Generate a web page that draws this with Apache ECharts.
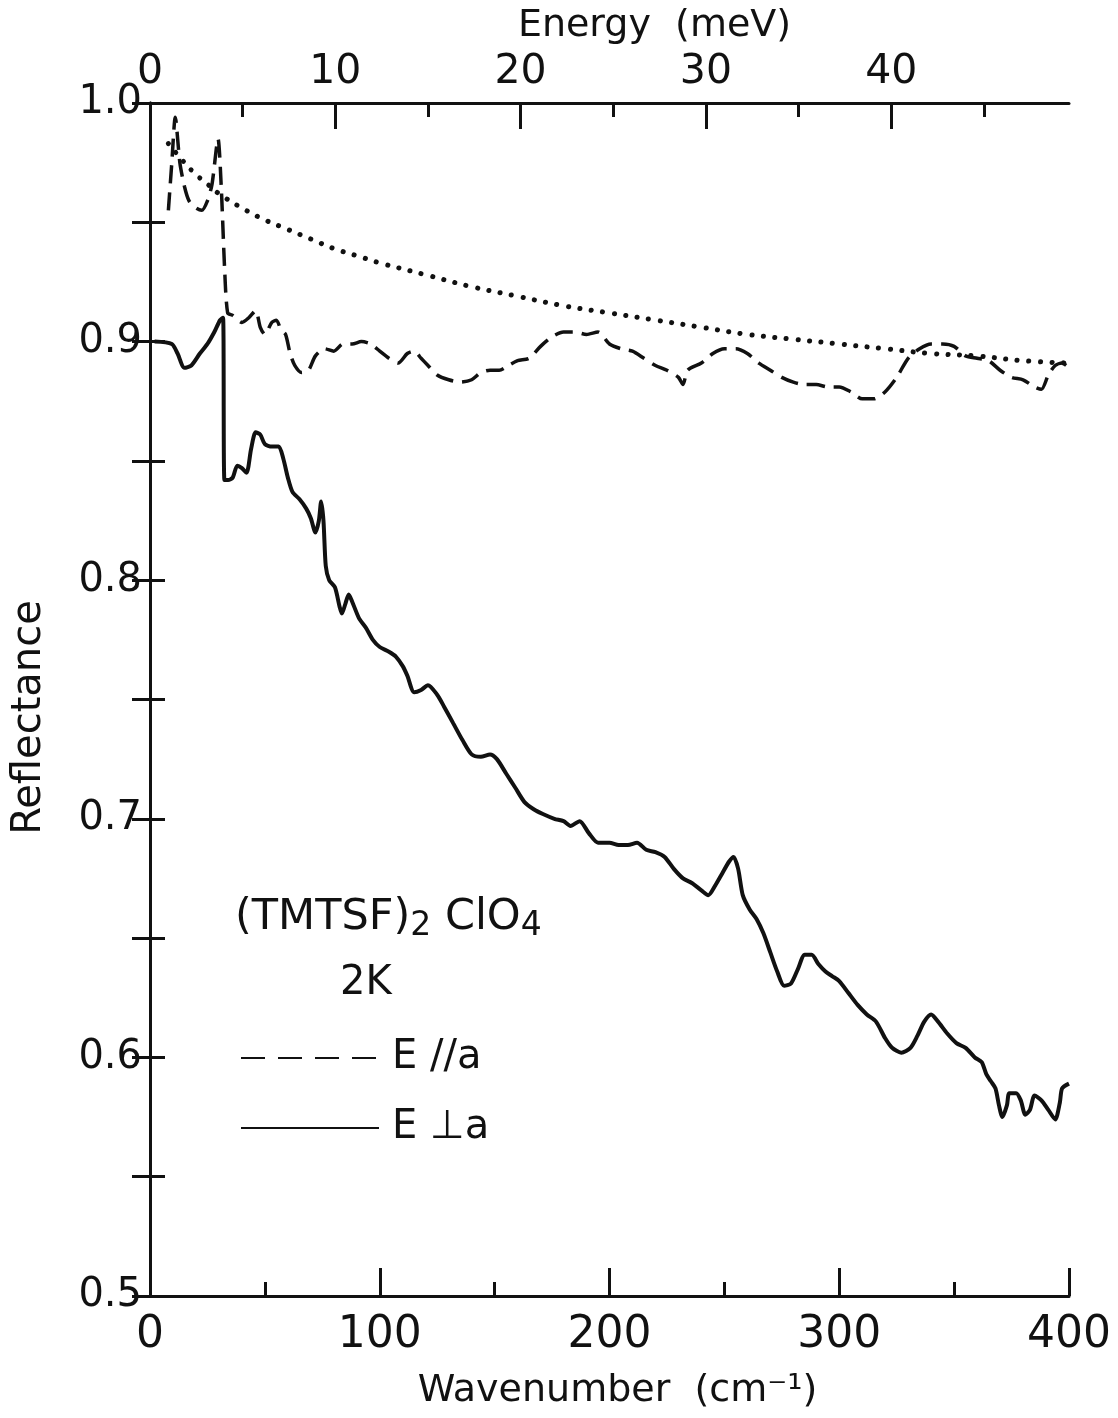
<!DOCTYPE html>
<html><head><meta charset="utf-8">
<script src="https://cdn.jsdelivr.net/npm/echarts@6/dist/echarts.min.js"></script>
<style>html,body{margin:0;padding:0;background:#fff}#c{width:1118px;height:1418px}</style>
</head><body><div id="c"></div>
<script>
// E // a (dashed)
const parallelWn = [8,9.5,11,13,15,17,20,22.5,25,27,29.6,31,32.5,33.8,36,40,43,46,48,50,53,55,57,59,61,63,66,69,72,76,80,84,88,92,96,100,104,108,112,115,118,121,125,130,135,140,144,148,152,156,160,165,170,175,180,185,190,195,200,205,210,215,220,225,230,232,234,240,245,250,255,260,265,270,275,280,285,290,295,300,305,310,315,320,325,330,335,340,345,350,355,360,365,370,375,380,385,388,391,394,397,400];
const parallelR  = [0.955,0.975,0.994,0.975,0.965,0.959,0.956,0.955,0.959,0.966,0.985,0.965,0.930,0.912,0.911,0.908,0.910,0.913,0.906,0.903,0.908,0.909,0.905,0.903,0.895,0.890,0.887,0.888,0.894,0.897,0.896,0.899,0.899,0.900,0.899,0.896,0.893,0.891,0.895,0.896,0.893,0.890,0.886,0.884,0.883,0.884,0.887,0.888,0.888,0.890,0.892,0.893,0.898,0.902,0.904,0.904,0.903,0.904,0.899,0.897,0.896,0.893,0.890,0.888,0.885,0.882,0.888,0.891,0.895,0.897,0.897,0.895,0.891,0.888,0.885,0.883,0.882,0.882,0.881,0.881,0.879,0.876,0.876,0.879,0.885,0.893,0.897,0.899,0.899,0.898,0.894,0.893,0.892,0.888,0.885,0.884,0.881,0.880,0.886,0.890,0.891,0.889];
// E perp a (solid)
const perpWn = [2,9.5,12,15,18,21.7,25,28,30.5,31.8,32.4,34,36,38,40,42,44,46,48,50,53,56,58,60,62,65,68,70,72,73.5,74.5,75.5,76.5,78,80.5,82.5,83.5,85,86.5,88,91,94,97,100,104,107,110,112,115,118,121,125,128,132,136,140,144,148,151,155,159,163,167,171,176,180,183,187,191,195,200,204,208,212,216,220,224,228,232,236,240,243,246,249,252,254,256,258,261,264,267,270,273,276,279,282,285,288,291,294,297,300,304,308,312,316,320,323,327,331,334,337,340,343,347,351,355,359,362,364,366,368,369.5,371,373,374,377,379,381,383,385,388,391,394,396,397,400];
const perpR  = [0.900,0.899,0.895,0.889,0.890,0.895,0.899,0.904,0.909,0.910,0.842,0.842,0.843,0.848,0.847,0.845,0.855,0.862,0.861,0.857,0.856,0.856,0.851,0.843,0.837,0.834,0.830,0.826,0.820,0.825,0.833,0.825,0.806,0.800,0.797,0.789,0.786,0.790,0.794,0.791,0.784,0.780,0.775,0.772,0.770,0.768,0.764,0.760,0.753,0.754,0.756,0.752,0.747,0.740,0.733,0.727,0.726,0.727,0.725,0.719,0.713,0.707,0.704,0.702,0.700,0.699,0.697,0.699,0.694,0.690,0.690,0.689,0.689,0.690,0.687,0.686,0.684,0.679,0.675,0.673,0.670,0.668,0.672,0.677,0.682,0.684,0.679,0.668,0.662,0.658,0.652,0.644,0.636,0.630,0.631,0.637,0.643,0.643,0.639,0.636,0.634,0.632,0.627,0.622,0.618,0.615,0.608,0.604,0.602,0.604,0.609,0.615,0.618,0.615,0.610,0.606,0.604,0.600,0.598,0.593,0.590,0.587,0.580,0.575,0.580,0.585,0.585,0.582,0.576,0.578,0.584,0.582,0.578,0.574,0.581,0.587,0.589];
// dotted curve
const fitWn = [8,15,20,25,30,40,50,60,70,80,90,100,120,140,160,180,200,220,240,260,280,300,320,340,360,380,400];
const fitR  = [0.983,0.975,0.970,0.966,0.962,0.956,0.951,0.947,0.943,0.939,0.936,0.933,0.928,0.923,0.919,0.915,0.912,0.909,0.906,0.903,0.901,0.899,0.897,0.895,0.894,0.892,0.891];
const energyMajorTicks = [0,10,20,30,40];
const energyMinorTicks = [5,15,25,35,45];
const CM_PER_MEV = 8.0655;

const zip = (a,b) => a.map((v,i)=>[v,b[i]]);
const FONT = 'DejaVu Sans';
const INK = '#111';
const chart = echarts.init(document.getElementById('c'));
const wnMax = 400, eMax = wnMax / CM_PER_MEV;
chart.setOption({
  animation:false,
  backgroundColor:'#fff',
  textStyle:{fontFamily:FONT,color:INK},
  grid:{left:150,right:49,top:103,bottom:122},
  legend:{
    data:[{name:'E //a',lineStyle:{type:[24,13]}},{name:'E ⊥a'}],
    orient:'vertical', left:240, top:1038,
    itemWidth:138, itemHeight:24, itemGap:30, padding:0,
    itemStyle:{opacity:0},
    textStyle:{fontSize:40,fontFamily:FONT,color:INK,padding:[0,0,0,8]},
    selectedMode:false
  },
  xAxis:[
    {type:'value',position:'bottom',min:0,max:wnMax,interval:100,
     name:'Wavenumber  (cm⁻¹)',nameLocation:'middle',nameGap:76,
     nameTextStyle:{fontSize:38,fontFamily:FONT,color:INK,padding:[0,0,0,16]},
     axisLine:{lineStyle:{color:INK,width:3}},
     axisTick:{inside:true,length:28,lineStyle:{color:INK,width:3}},
     minorTick:{show:true,splitNumber:2,length:14,lineStyle:{color:INK,width:3}},
     axisLabel:{fontSize:44,color:INK,margin:18},
     splitLine:{show:false}},
    {type:'value',position:'top',min:0,max:eMax,
     name:'Energy  (meV)',nameLocation:'middle',nameGap:58,
     nameTextStyle:{fontSize:38,fontFamily:FONT,color:INK,padding:[0,0,0,90]},
     axisLine:{lineStyle:{color:INK,width:3}},
     axisTick:{inside:true,length:26,customValues:energyMajorTicks,lineStyle:{color:INK,width:3}},
     axisLabel:{fontSize:41,color:INK,margin:10,customValues:energyMajorTicks},
     splitLine:{show:false}},
    {type:'value',position:'top',min:0,max:eMax,
     axisLine:{show:false},
     axisTick:{inside:true,length:14,customValues:energyMinorTicks,lineStyle:{color:INK,width:3}},
     axisLabel:{show:false},splitLine:{show:false}}
  ],
  yAxis:[
    {type:'value',position:'left',min:0.5,max:1.0,interval:0.1,
     name:'Reflectance',nameLocation:'middle',nameGap:100,nameRotate:90,
     nameTextStyle:{fontSize:40,fontFamily:FONT,color:INK,padding:[0,36,0,0]},
     axisLine:{lineStyle:{color:INK,width:3}},
     axisTick:{inside:true,length:15,lineStyle:{color:INK,width:3}},
     minorTick:{show:true,splitNumber:2,length:15,lineStyle:{color:INK,width:3}},
     axisLabel:{fontSize:40,color:INK,margin:8,formatter:v=>v.toFixed(1)},
     splitLine:{show:false}},
    {type:'value',position:'right',min:0.5,max:1.0,interval:0.1,
     axisLine:{show:true,lineStyle:{color:INK,width:3}},
     axisTick:{inside:true,length:18,lineStyle:{color:INK,width:3}},
     minorTick:{show:true,splitNumber:2,length:18,lineStyle:{color:INK,width:3}},
     axisLabel:{show:false},splitLine:{show:false}}
  ],
  series:[
    {name:'fit',type:'line',data:zip(fitWn,fitR),showSymbol:false,symbol:'none',smooth:0.4,
     lineStyle:{color:INK,width:5,type:[0.1,11.5],cap:'round'}},
    {name:'E //a',type:'line',data:zip(parallelWn,parallelR),symbol:'none',smooth:0.25,
     itemStyle:{color:INK},
     lineStyle:{color:INK,width:3.5,type:[18,9]}},
    {name:'E ⊥a',type:'line',data:zip(perpWn,perpR),symbol:'none',smooth:0.25,
     itemStyle:{color:INK},
     lineStyle:{color:INK,width:4,type:'solid'}}
  ],
  graphic:[
    {type:'text',left:235,top:896,style:{
      text:'(TMTSF){s|2} ClO{s|4}',fill:INK,
      font:'43px DejaVu Sans',
      rich:{s:{fontSize:33,fontFamily:FONT,fill:INK,padding:[18,0,0,0]}}}},
    {type:'text',left:340,top:964,style:{text:'2K',fill:INK,font:'40px DejaVu Sans'}}
  ]
});
</script></body></html>
